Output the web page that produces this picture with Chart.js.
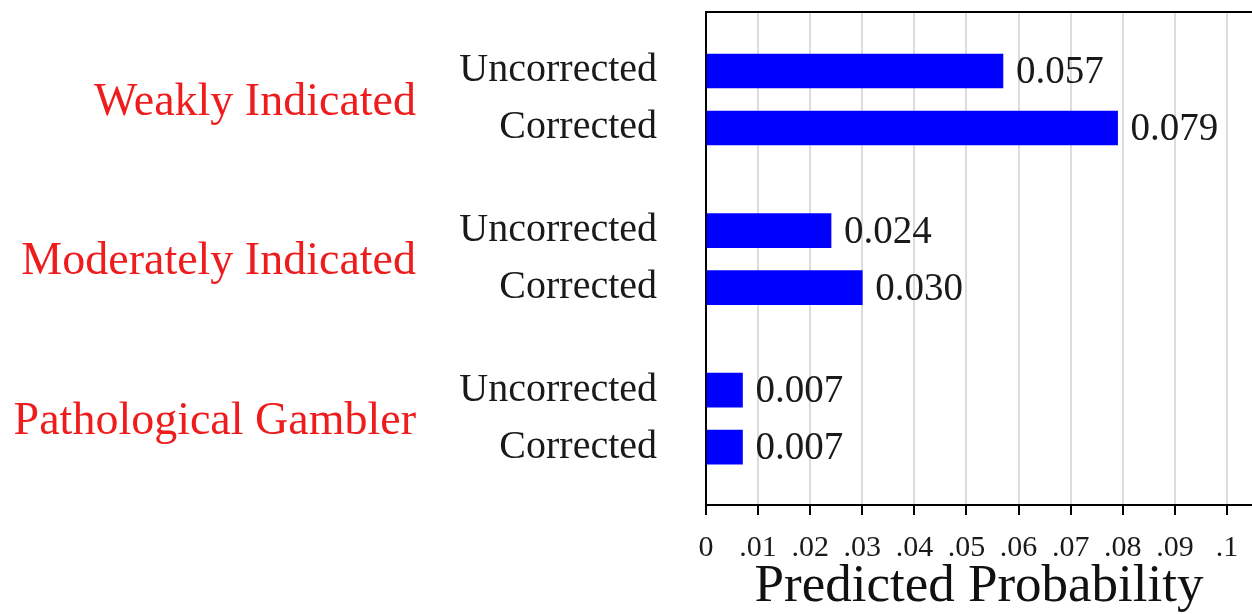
<!DOCTYPE html>
<html>
<head>
<meta charset="utf-8">
<script src="https://cdn.jsdelivr.net/npm/chart.js@4"></script>
<style>
  html, body { margin: 0; padding: 0; background: #fff; }
  #wrap { width: 1252px; height: 614px; }
</style>
</head>
<body>
<div id="wrap"><canvas id="chartId"></canvas></div>
<script>
var groups = ['Weakly Indicated', 'Moderately Indicated', 'Pathological Gambler'];
var rows = ['Uncorrected', 'Corrected'];
var uncorrected = [0.057, 0.024, 0.007];
var corrected = [0.079, 0.030, 0.007];
var xTicks = [0, 0.01, 0.02, 0.03, 0.04, 0.05, 0.06, 0.07, 0.08, 0.09, 0.1];

var serif = '"Liberation Serif", "Times New Roman", serif';
var groupStep = 2.8; // rows inside a group are 1 apart, groups are 2.8 apart

// build bar points (x = value, y = row slot)
let points = [];
let slotLabels = {};
groups.forEach((g, gi) => {
  [uncorrected[gi], corrected[gi]].forEach((v, si) => {
    let pos = gi * groupStep + si;
    points.push({ x: v, y: pos });
    slotLabels[pos.toFixed(2)] = rows[si];
  });
});

function fmtTick(v) {
  if (v === 0) return '0';
  return Number(v.toFixed(2)).toString().replace(/^0/, '');
}

const labelPlugin = {
  id: 'labels',
  afterDatasetsDraw(chart) {
    const ctx = chart.ctx;
    const yAxis = chart.scales.y;
    const area = chart.chartArea;
    ctx.save();
    // top frame line
    ctx.strokeStyle = '#000';
    ctx.lineWidth = 2;
    ctx.beginPath();
    ctx.moveTo(area.left, area.top);
    ctx.lineTo(area.right, area.top);
    ctx.stroke();
    // values next to bars
    ctx.font = '39px ' + serif;
    ctx.fillStyle = '#1a1a1a';
    ctx.textAlign = 'left';
    ctx.textBaseline = 'middle';
    const meta = chart.getDatasetMeta(0);
    meta.data.forEach((bar, i) => {
      ctx.fillText(points[i].x.toFixed(3), bar.x + 13, bar.y + 2);
    });
    // group names in red
    ctx.font = '46px ' + serif;
    ctx.fillStyle = '#ee1c1c';
    ctx.textAlign = 'right';
    groups.forEach((g, gi) => {
      let y = yAxis.getPixelForValue(gi * groupStep + 0.5);
      ctx.fillText(g, 416, y + 3);
    });
    ctx.restore();
  }
};

new Chart(document.getElementById('chartId'), {
  type: 'bar',
  data: {
    datasets: [{
      data: points,
      backgroundColor: '#0000ff',
      barThickness: 34,
    }],
  },
  options: {
    indexAxis: 'y',
    responsive: true,
    maintainAspectRatio: false,
    animation: false,
    layout: { padding: { top: 12, left: 0, right: 0, bottom: 0 } },
    plugins: {
      legend: { display: false },
      tooltip: { enabled: false },
    },
    scales: {
      x: {
        type: 'linear',
        min: 0,
        max: 0.1048,
        afterBuildTicks: function(axis) {
          axis.ticks = xTicks.map(v => ({ value: v }));
        },
        afterFit: function(axis) {
          axis.height = 109;
          axis.paddingLeft = 0;
          axis.paddingRight = 0;
        },
        ticks: {
          autoSkip: false,
          maxRotation: 0,
          padding: 15,
          color: '#1a1a1a',
          font: { family: serif, size: 30 },
          callback: function(value) { return fmtTick(value); },
        },
        grid: {
          color: '#dcdcdc',
          lineWidth: 2,
          tickColor: '#000',
          tickLength: 10,
          drawTicks: true,
        },
        border: { color: '#000', width: 2 },
        title: {
          display: true,
          text: 'Predicted Probability',
          color: '#111',
          font: { family: serif, size: 53, lineHeight: 1 },
          padding: { top: 0, bottom: 0 },
        },
      },
      y: {
        type: 'linear',
        reverse: true,
        offset: false,
        min: -1.035,
        max: 7.614,
        afterBuildTicks: function(axis) {
          axis.ticks = points.map(p => ({ value: p.y }));
        },
        afterFit: function(axis) {
          axis.width = 706;
          axis.paddingTop = 0;
          axis.paddingBottom = 0;
        },
        ticks: {
          autoSkip: false,
          padding: 49,
          color: '#1a1a1a',
          font: { family: serif, size: 40 },
          callback: function(value) { return slotLabels[value.toFixed(2)] || ''; },
        },
        grid: { display: false, drawTicks: false, offset: false },
        border: { color: '#000', width: 2 },
      },
    },
  },
  plugins: [labelPlugin],
});
</script>
</body>
</html>
